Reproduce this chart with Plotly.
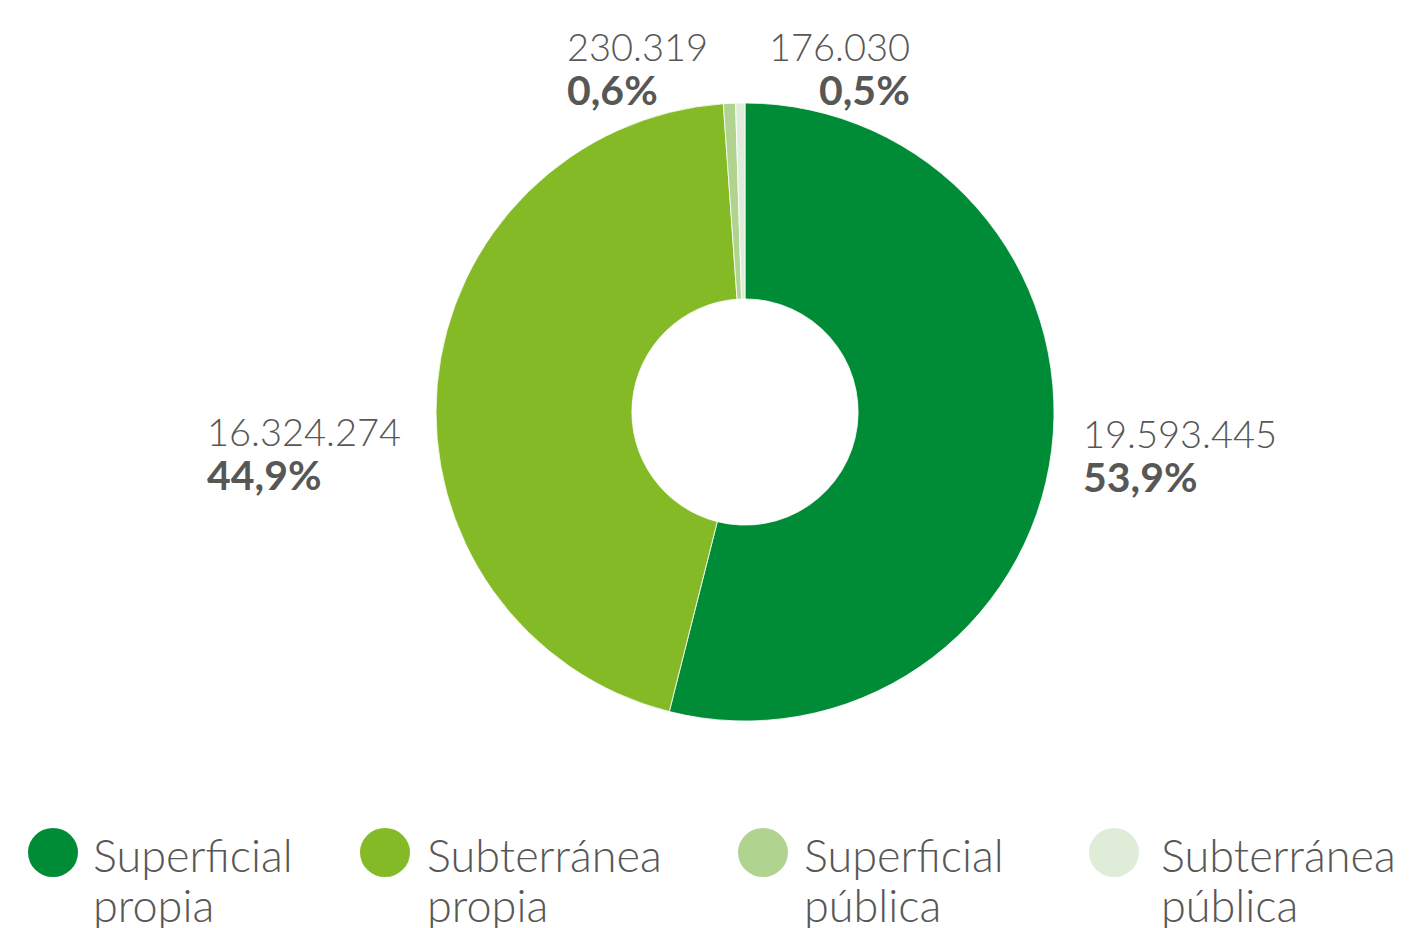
import plotly.graph_objects as go

# ---- data ----
categories = ["Superficial propia", "Subterránea propia", "Superficial pública", "Subterránea pública"]
legend_labels = ["Superficial<br>propia", "Subterránea<br>propia", "Superficial<br>pública", "Subterránea<br>pública"]
values = [19593445, 16324274, 230319, 176030]
value_labels = ["19.593.445", "16.324.274", "230.319", "176.030"]
pct_labels = ["53,9%", "44,9%", "0,6%", "0,5%"]
colors = ["#008C36", "#84BA26", "#B0D48F", "#DFEDD8"]

W, H = 1410, 928
TXT = "#575756"
FONT = "Lato"

def px(x):
    return x / W

def py(y):
    return 1 - y / H

# donut geometry (pixels)
cx, cy, r = 745, 412, 309

fig = go.Figure(go.Pie(
    labels=categories,
    values=values,
    hole=0.366,
    sort=False,
    direction="clockwise",
    rotation=0,
    marker=dict(colors=colors, line=dict(color="white", width=0.8)),
    textinfo="none",
    hoverinfo="label+value+percent",
    showlegend=False,
    domain=dict(x=[px(cx - r), px(cx + r)], y=[py(cy + r), py(cy - r)]),
))

annotations = []
# label placements: (x, y_value_line, y_pct_line, anchor)
label_pos = [(1081, 433, 476, "left"), (205, 431, 474, "left"),
             (565, 46, 89, "left"), (912, 46, 89, "right")]
for (x, y1, y2, anc), v, p in zip(label_pos, value_labels, pct_labels):
    annotations.append(dict(x=px(x), y=py(y1), xref="paper", yref="paper", text=v,
                            showarrow=False, xanchor=anc, yanchor="middle",
                            font=dict(family=FONT, size=38, color=TXT, weight=300)))
    annotations.append(dict(x=px(x), y=py(y2), xref="paper", yref="paper", text="<b>%s</b>" % p,
                            showarrow=False, xanchor=anc, yanchor="middle",
                            font=dict(family=FONT, size=41, color=TXT)))

# custom legend
marker_x = [53, 385, 763, 1114]
text_x = [91, 425, 802, 1159]
shapes = []
for mx, tx, col, lab in zip(marker_x, text_x, colors, legend_labels):
    shapes.append(dict(type="circle", xref="paper", yref="paper",
                       x0=px(mx - 25), x1=px(mx + 25), y0=py(877), y1=py(828),
                       fillcolor=col, line=dict(width=0)))
    l1, l2 = lab.split("<br>")
    annotations.append(dict(x=px(tx), y=py(855), xref="paper", yref="paper", text=l1,
                            showarrow=False, xanchor="left", yanchor="middle",
                            font=dict(family=FONT, size=45, color=TXT, weight=300)))
    annotations.append(dict(x=px(tx), y=py(905), xref="paper", yref="paper", text=l2,
                            showarrow=False, xanchor="left", yanchor="middle",
                            font=dict(family=FONT, size=45, color=TXT, weight=300)))

fig.update_layout(
    width=W, height=H,
    margin=dict(l=0, r=0, t=0, b=0),
    paper_bgcolor="white", plot_bgcolor="white",
    annotations=annotations, shapes=shapes,
)

fig.write_html("out.html", config={"displayModeBar": False},
               post_script="document.body.style.margin='0';")
